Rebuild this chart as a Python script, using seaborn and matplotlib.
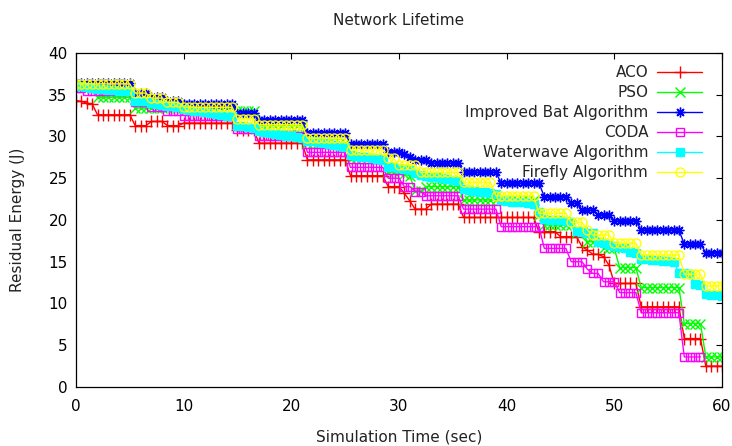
import numpy as np
import pandas as pd
import matplotlib
matplotlib.use("Agg")
import matplotlib.pyplot as plt
import seaborn as sns

# time axis: samples every 0.5 s from 0 to 60
time = [i * 0.5 for i in range(121)]

aco = [34.3, 34.2, 34.0, 33.9, 32.6, 32.6, 32.6, 32.6, 32.6, 32.6,
       32.6, 31.3, 31.3, 31.3, 31.8, 31.8, 31.8, 31.3, 31.3, 31.3,
       31.6, 31.6, 31.6, 31.6, 31.6, 31.6, 31.6, 31.6, 31.6, 31.6,
       30.8, 30.8, 30.8, 30.8, 29.2, 29.2, 29.2, 29.2, 29.2, 29.2,
       29.2, 29.2, 29.2, 27.2, 27.2, 27.2, 27.2, 27.2, 27.2, 27.2,
       27.2, 25.3, 25.3, 25.3, 25.3, 25.3, 25.3, 25.3, 24.0, 24.0,
       24.0, 23.2, 22.3, 21.3, 21.3, 21.3, 21.9, 21.9, 21.9, 21.9,
       21.9, 21.9, 20.3, 20.3, 20.3, 20.3, 20.3, 20.3, 20.3, 20.3,
       20.3, 20.3, 20.3, 20.3, 20.3, 20.3, 18.6, 18.6, 18.6, 18.6,
       18.0, 18.0, 18.0, 18.0, 16.8, 16.4, 15.9, 15.9, 15.6, 14.6,
       12.4, 12.4, 12.4, 12.4, 12.4, 9.6, 9.6, 9.6, 9.6, 9.6,
       9.6, 9.6, 9.6, 5.8, 5.8, 5.8, 5.8, 2.5, 2.5, 2.5,
       2.5]

pso = [36.0, 36.0, 35.9, 35.8, 34.7, 34.7, 34.7, 34.7, 34.7, 34.7,
       34.7, 33.4, 33.4, 33.4, 33.4, 33.4, 33.4, 33.4, 33.4, 33.4,
       33.4, 33.4, 33.4, 33.4, 33.4, 33.4, 33.4, 33.4, 33.4, 33.4,
       33.0, 33.0, 33.0, 33.0, 31.3, 31.3, 31.3, 31.3, 31.3, 31.3,
       31.3, 31.3, 31.3, 29.2, 29.2, 29.2, 29.2, 29.2, 29.2, 29.2,
       29.2, 27.3, 27.3, 27.3, 27.3, 27.3, 27.3, 27.3, 25.7, 25.7,
       25.7, 25.5, 25.3, 23.5, 23.5, 24.0, 24.0, 24.0, 24.0, 24.0,
       24.0, 24.0, 22.4, 22.4, 22.4, 22.4, 22.4, 22.4, 22.4, 22.4,
       22.4, 22.4, 22.4, 22.4, 22.4, 22.4, 20.6, 19.4, 19.4, 19.4,
       19.4, 19.4, 19.4, 18.6, 18.6, 17.4, 17.4, 17.4, 16.6, 16.6,
       16.6, 14.3, 14.3, 14.3, 14.3, 11.9, 11.9, 11.9, 11.9, 11.9,
       11.9, 11.9, 11.9, 7.6, 7.6, 7.6, 7.6, 3.6, 3.6, 3.6,
       3.6]

iba = [36.4, 36.4, 36.4, 36.4, 36.4, 36.4, 36.4, 36.4, 36.4, 36.4,
       36.4, 35.2, 35.2, 35.2, 34.7, 34.7, 34.7, 34.3, 34.3, 34.3,
       33.9, 33.9, 33.9, 33.9, 33.9, 33.9, 33.9, 33.9, 33.9, 33.9,
       32.8, 32.8, 32.8, 32.8, 32.0, 32.0, 32.0, 32.0, 32.0, 32.0,
       32.0, 32.0, 32.0, 30.4, 30.4, 30.4, 30.4, 30.4, 30.4, 30.4,
       30.4, 29.1, 29.1, 29.1, 29.1, 29.1, 29.1, 29.1, 28.2, 28.2,
       28.2, 27.9, 27.5, 27.2, 27.2, 27.2, 26.8, 26.8, 26.8, 26.8,
       26.8, 26.8, 25.7, 25.7, 25.7, 25.7, 25.7, 25.7, 25.7, 24.4,
       24.4, 24.4, 24.4, 24.4, 24.4, 24.4, 24.4, 22.8, 22.8, 22.8,
       22.8, 22.8, 22.0, 22.0, 21.2, 21.2, 21.2, 20.6, 20.6, 20.6,
       19.9, 19.9, 19.9, 19.9, 19.9, 18.8, 18.8, 18.8, 18.8, 18.8,
       18.8, 18.8, 18.8, 17.1, 17.1, 17.1, 17.1, 16.1, 16.1, 16.1,
       16.1]

coda = [35.8, 35.8, 35.4, 35.4, 35.4, 35.4, 35.4, 35.4, 35.4, 35.4,
        35.4, 34.1, 34.1, 34.1, 33.5, 33.5, 33.5, 33.1, 33.1, 33.1,
        32.5, 32.5, 32.5, 32.5, 32.5, 32.5, 32.5, 32.5, 32.5, 32.5,
        30.9, 30.9, 30.9, 30.9, 30.1, 30.1, 30.1, 30.1, 30.1, 30.1,
        30.1, 30.1, 30.1, 28.1, 28.1, 28.1, 28.1, 28.1, 28.1, 28.1,
        28.1, 26.3, 26.3, 26.3, 26.3, 26.3, 26.3, 26.3, 25.0, 25.0,
        25.0, 24.0, 24.0, 23.4, 23.4, 22.9, 22.9, 22.9, 22.9, 22.9,
        22.9, 22.9, 21.3, 21.3, 21.3, 21.3, 21.3, 21.3, 21.3, 19.2,
        19.2, 19.2, 19.2, 19.2, 19.2, 19.2, 19.2, 16.6, 16.6, 16.6,
        16.6, 16.6, 15.0, 15.0, 15.0, 14.1, 13.6, 13.6, 12.6, 12.6,
        12.6, 11.3, 11.3, 11.3, 11.3, 8.9, 8.9, 8.9, 8.9, 8.9,
        8.9, 8.9, 8.9, 3.6, 3.6, 3.6, 3.6, np.nan, np.nan, np.nan,
        np.nan]

waterwave = [36.0, 36.0, 35.9, 35.8, 35.7, 35.7, 35.6, 35.6, 35.5, 35.5,
             35.4, 34.3, 34.3, 34.2, 34.0, 33.9, 33.8, 33.7, 33.6, 33.5,
             33.3, 33.2, 33.1, 33.0, 32.9, 32.8, 32.7, 32.6, 32.5, 32.4,
             31.3, 31.2, 31.1, 31.0, 30.6, 30.5, 30.4, 30.3, 30.2, 30.1,
             30.0, 29.9, 29.8, 29.5, 29.4, 29.3, 29.2, 29.1, 29.0, 28.9,
             28.8, 27.8, 27.7, 27.6, 27.5, 27.4, 27.3, 27.2, 26.4, 26.3,
             26.2, 26.1, 26.0, 25.6, 25.4, 25.3, 25.2, 25.1, 25.0, 24.9,
             24.8, 24.7, 23.7, 23.6, 23.5, 23.4, 23.3, 23.2, 23.1, 22.4,
             22.3, 22.2, 22.2, 22.1, 22.0, 21.9, 21.0, 20.1, 20.0, 20.0,
             20.0, 19.9, 19.8, 18.7, 18.6, 18.5, 18.4, 17.4, 17.2, 17.0,
             16.9, 16.8, 16.7, 16.2, 16.1, 15.3, 15.3, 15.2, 15.2, 15.1,
             15.1, 15.0, 13.7, 13.6, 13.5, 12.3, 12.2, 11.1, 11.0, 11.0,
             10.9]

firefly = [36.3, 36.3, 36.3, 36.3, 36.3, 36.3, 36.3, 36.3, 36.3, 36.3,
           36.3, 35.2, 35.2, 35.2, 34.6, 34.6, 34.6, 34.1, 34.1, 34.1,
           33.5, 33.5, 33.5, 33.5, 33.5, 33.5, 33.5, 33.5, 33.5, 33.5,
           32.1, 32.1, 32.1, 32.1, 31.4, 31.4, 31.4, 31.4, 31.4, 31.4,
           31.4, 31.4, 31.4, 29.8, 29.8, 29.8, 29.8, 29.8, 29.8, 29.8,
           29.8, 28.4, 28.4, 28.4, 28.4, 28.4, 28.4, 28.4, 27.4, 27.4,
           26.6, 26.6, 26.6, 26.6, 25.7, 25.7, 25.7, 25.7, 25.7, 25.7,
           25.7, 25.7, 24.5, 24.5, 24.5, 24.5, 24.5, 24.5, 22.9, 22.9,
           22.9, 22.9, 22.9, 22.9, 22.9, 22.9, 20.8, 20.8, 20.8, 20.8,
           20.8, 20.8, 19.7, 19.7, 19.7, 18.8, 18.2, 18.2, 18.2, 18.2,
           17.2, 17.2, 17.2, 17.2, 17.2, 15.8, 15.8, 15.8, 15.8, 15.8,
           15.8, 15.8, 15.8, 13.5, 13.5, 13.5, 13.5, 12.1, 12.1, 12.1,
           12.1]

series_names = ["ACO", "PSO", "Improved Bat Algorithm", "CODA",
                "Waterwave Algorithm", "Firefly Algorithm"]
series_values = [aco, pso, iba, coda, waterwave, firefly]
colors = ["#ff0000", "#00ff00", "#0000ff", "#ff00ff", "#00ffff", "#ffff00"]
markers = ["+", "x", (8, 2, 0), "s", "s", "o"]
filled = [True, True, True, False, True, False]
msizes = [8, 6.5, 7, 6, 6, 6.5]

sns.set_theme(style="white")
plt.rcParams["font.family"] = ["DejaVu Sans"]
plt.rcParams.update({
    "xtick.direction": "in", "ytick.direction": "in",
    "xtick.top": True, "ytick.right": True,
    "xtick.major.size": 4.5, "ytick.major.size": 4.5,
    "xtick.major.width": 0.8, "ytick.major.width": 0.8,
    "axes.edgecolor": "black", "axes.linewidth": 0.9,
    "xtick.color": "black", "ytick.color": "black",
})

fig = plt.figure(figsize=(7.32, 4.46), dpi=100)
ax = fig.add_axes([0.1038, 0.1323, 0.8825, 0.7489])

for name, vals, col, mk, fl, ms in zip(series_names, series_values, colors,
                                       markers, filled, msizes):
    df = pd.DataFrame({"t": time, "v": vals}).dropna()
    sns.lineplot(data=df, x="t", y="v", ax=ax, color=col, marker=mk,
                 markersize=ms, markeredgecolor=col,
                 markerfacecolor=(col if fl else "none"),
                 markeredgewidth=1.0, linewidth=1.0, label=name,
                 estimator=None, sort=False)

ax.set_xlim(0, 60)
ax.set_ylim(0, 40)
ax.set_xticks(range(0, 61, 10))
ax.set_yticks(range(0, 41, 5))
ax.tick_params(axis="x", labelsize=11, pad=9)
ax.tick_params(axis="y", labelsize=11, pad=6)
ax.set_xlabel("Simulation Time (sec)", fontsize=11, labelpad=11, color="#222222")
ax.set_ylabel("Residual Energy (J)", fontsize=11, labelpad=17, color="#222222")
ax.set_title("Network Lifetime", fontsize=11, pad=20, color="#222222")
ax.grid(False)

leg = ax.legend(loc="upper right", bbox_to_anchor=(0.997, 1.017),
                frameon=False, markerfirst=False,
                fontsize=11, handlelength=3.0, handletextpad=0.55,
                labelspacing=0.33, borderaxespad=0.75)

fig.savefig("out.png", dpi=100)
